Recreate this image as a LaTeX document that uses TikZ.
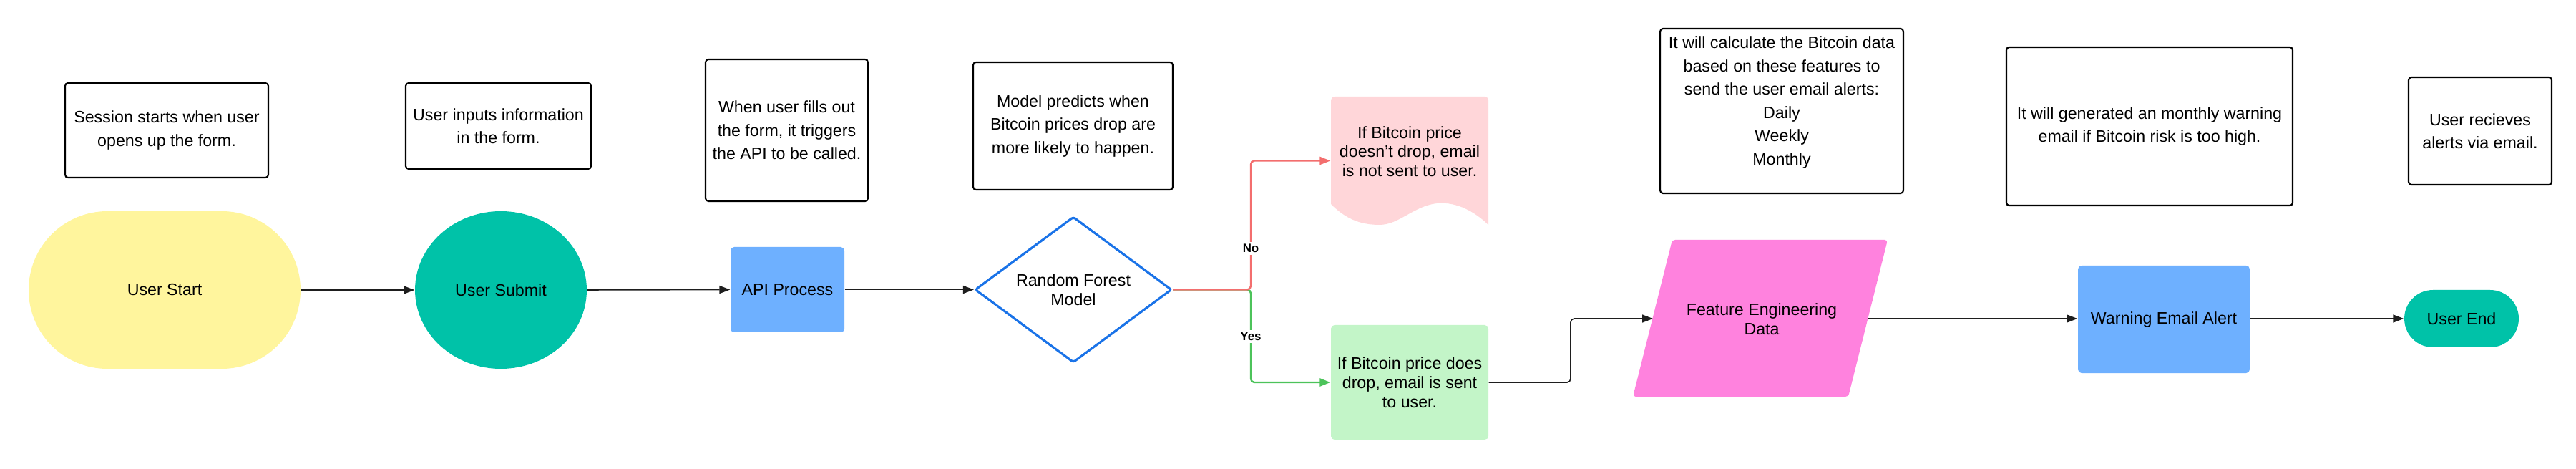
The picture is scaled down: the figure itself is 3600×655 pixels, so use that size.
\documentclass[tikz,border=0pt]{standalone}
\usepackage{fontspec}
\setmainfont{Liberation Sans}
\usetikzlibrary{shapes.geometric,shapes.misc,arrows.meta}
\newlength\pxu
\setlength\pxu{0.01cm}
\definecolor{startyellow}{RGB}{255,245,157}
\definecolor{tealfill}{RGB}{0,194,168}
\definecolor{bluefill}{RGB}{110,176,255}
\definecolor{pinkfill}{RGB}{255,214,217}
\definecolor{greenfill}{RGB}{195,245,200}
\definecolor{magfill}{RGB}{255,130,222}
\definecolor{diamblue}{RGB}{26,115,232}
\definecolor{nored}{RGB}{243,110,110}
\definecolor{yesgreen}{RGB}{76,195,90}
\definecolor{connline}{RGB}{30,30,30}
\begin{document}
\begin{tikzpicture}[x=0.01cm,y=-0.01cm,
  every node/.style={font=\fontsize{6.6}{9.25}\selectfont, align=center},
  note/.style={draw=black, line width=0.6pt, rounded corners=4\pxu, inner sep=0pt},
  shapetext/.style={font=\fontsize{6.6}{7.6}\selectfont},
  conn/.style={draw=connline, line width=0.45pt, -{Triangle[length=0.15cm,width=0.11cm]}},
  nocon/.style={draw=nored, line width=0.7pt, rounded corners=5\pxu, -{Triangle[length=0.15cm,width=0.11cm]}},
  yescon/.style={draw=yesgreen, line width=0.7pt, rounded corners=5\pxu, -{Triangle[length=0.15cm,width=0.11cm]}},
  lbl/.style={font=\fontsize{4.8}{5.5}\selectfont\bfseries, fill=white, inner sep=1pt}
]
\useasboundingbox (0,0) rectangle (3600,655);

% notes
\node[note, minimum width=284\pxu, minimum height=132\pxu] (n1) at (233,182) {Session starts when user\\opens up the form.};
\node[note, minimum width=259\pxu, minimum height=120\pxu] (n2) at (696.5,176) {User inputs information\\in the form.};
\node[note, minimum width=227\pxu, minimum height=198\pxu] (n3) at (1099.5,182) {When user fills out\\the form, it triggers\\the API to be called.};
\node[note, minimum width=279\pxu, minimum height=178\pxu] (n4) at (1499.5,176) {Model predicts when\\Bitcoin prices drop are\\more likely to happen.};
\node[note, minimum width=340\pxu, minimum height=230\pxu] (n5) at (2490,155) {};
\node (n5text) at (2490,143) {It will calculate the Bitcoin data\\based on these features to\\send the user email alerts:\\Daily\\Weekly\\Monthly};
\node[note, minimum width=400\pxu, minimum height=221\pxu] (n6) at (3004,176.5) {It will generated an monthly warning\\email if Bitcoin risk is too high.};
\node[note, minimum width=200\pxu, minimum height=150\pxu] (n7) at (3466,183) {User recieves\\alerts via email.};

% flow shapes
\node[rounded rectangle, fill=startyellow, minimum width=380\pxu, minimum height=220\pxu, inner sep=0pt, shapetext] (start) at (230,405) {User Start};
\node[ellipse, fill=tealfill, minimum width=240\pxu, minimum height=220\pxu, inner sep=0pt, shapetext] (submit) at (700,405) {User Submit};
\node[rectangle, fill=bluefill, rounded corners=5\pxu, minimum width=159\pxu, minimum height=119\pxu, inner sep=0pt, shapetext] (api) at (1100.5,404.5) {API Process};
\node[diamond, draw=diamblue, line width=0.9pt, rounded corners=3\pxu, minimum width=275\pxu, minimum height=187\pxu, inner sep=0pt, shapetext] (rf) at (1500,404.5) {Random Forest\\Model};

% document shape (No branch)
\node[rectangle, minimum width=220\pxu, minimum height=179\pxu, inner sep=0pt] (nodoc) at (1970,224.5) {};
\fill[pinkfill] (1860,285) [rounded corners=5\pxu] -- (1860,135) -- (2080,135) [sharp corners] -- (2080,314)
  .. controls (2055,290) and (2030,282) .. (2008,284)
  .. controls (1975,288) and (1955,314) .. (1928,314)
  .. controls (1900,314) and (1880,305) .. (1860,285) -- cycle;
\node[shapetext] (nodoctext) at (1970,211.5) {If Bitcoin price\\doesn't drop, email\\is not sent to user.};

\node[rectangle, fill=greenfill, rounded corners=5\pxu, minimum width=220\pxu, minimum height=160\pxu, inner sep=0pt, shapetext] (yesbox) at (1970,534) {If Bitcoin price does\\drop, email is sent\\to user.};

% parallelogram (Feature Engineering Data)
\fill[magfill, rounded corners=4\pxu] (2282,554) -- (2337,335) -- (2638,335) -- (2583,554) -- cycle;
\node[shapetext, minimum width=250\pxu, minimum height=200\pxu, inner sep=0pt] (fe) at (2462,446) {Feature Engineering\\Data};
\coordinate (fein) at (2310,445);
\coordinate (feout) at (2611,445);

\node[rectangle, fill=bluefill, rounded corners=5\pxu, minimum width=240\pxu, minimum height=150\pxu, inner sep=0pt, shapetext] (warn) at (3024,446) {Warning Email Alert};
\node[rounded rectangle, fill=tealfill, minimum width=160\pxu, minimum height=80\pxu, inner sep=0pt, shapetext] (endn) at (3440,445) {User End};

% connectors
\coordinate (split) at (1748,404.5);
\coordinate (bend) at (2195,534);
\draw[conn] (start.east) -- (submit.west);
\draw[conn] (submit.east) -- (api.west);
\draw[conn] (api.east) -- (rf.west);
\draw[yescon] (rf.east) -- (split) |- (yesbox.west);
\draw[nocon] (rf.east) -- (split) |- (nodoc.west);
\node[lbl] (nolbl) at (1748,347) {No};
\node[lbl] (yeslbl) at (1748,470) {Yes};
\draw[conn, rounded corners=5\pxu] (yesbox.east) -- (bend) |- (fein);
\draw[conn] (feout) -- (warn.west |- feout);
\draw[conn] (warn.east |- endn.west) -- (endn.west);
\end{tikzpicture}
\end{document}
